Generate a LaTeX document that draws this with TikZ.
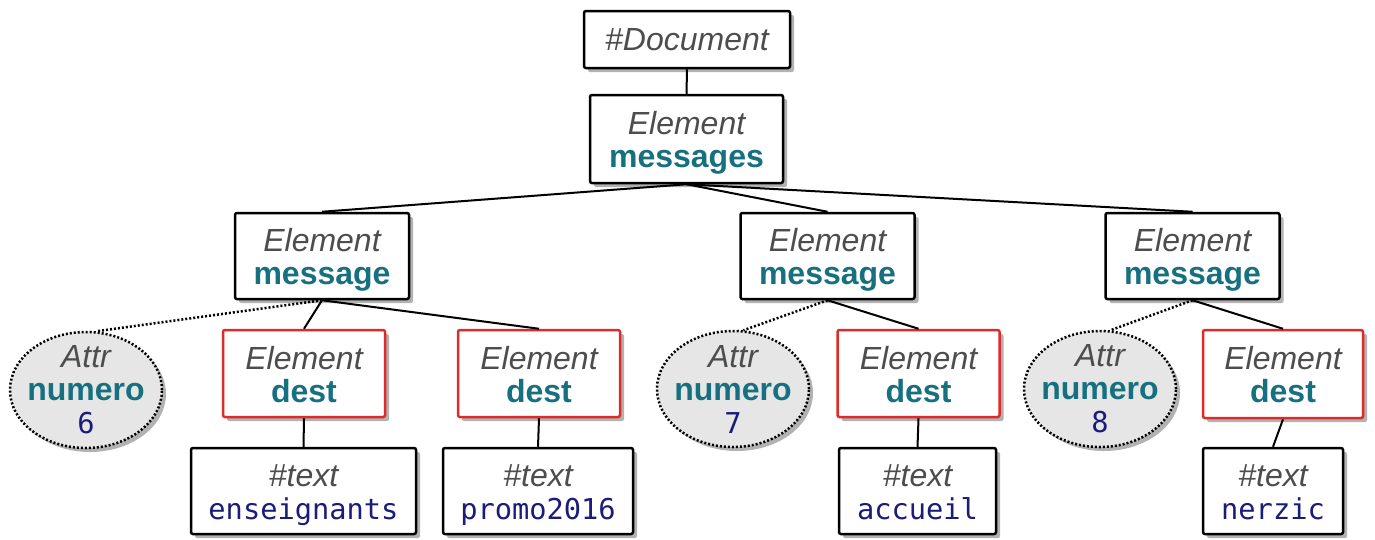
\documentclass[tikz,border=0pt]{standalone}
\usepackage{fontspec}
\setmainfont{Liberation Sans}
\newfontfamily\monof{DejaVu Sans Mono}
\usetikzlibrary{shapes.geometric,shadows}
\definecolor{tygray}{HTML}{4D4D4D}
\definecolor{nmteal}{HTML}{17707F}
\definecolor{vlnavy}{HTML}{1B1B7A}
\definecolor{dred}{HTML}{E02A2A}
\definecolor{attrfill}{HTML}{E6E6E6}
\newcommand{\dtyp}[1]{{\itshape\color{tygray}#1}}
\newcommand{\dtop}[1]{{\rule{0pt}{31pt}\itshape\color{tygray}#1}}
\newcommand{\dnam}[1]{{\bfseries\color{nmteal}#1}}
\newcommand{\dnamg}[1]{{\bfseries\color{nmteal}#1\vphantom{g}}}
\newcommand{\dval}[1]{{\monof\fontsize{28.7}{33}\selectfont\color{vlnavy}#1}}
\newcommand{\dvalg}[1]{{\monof\fontsize{28.7}{33}\selectfont\color{vlnavy}#1\vphantom{g}}}
\tikzset{
  shadowed/.style={drop shadow={shadow xshift=4pt, shadow yshift=-4pt, fill=black!30, opacity=1}},
  base/.style={rectangle, draw=black, line width=2.5pt, fill=white, rounded corners=2pt,
    inner sep=0pt, align=center, font=\fontsize{32}{33}\selectfont, shadowed},
  elem/.style={base},
  destbox/.style={base, draw=dred},
  attrnode/.style={ellipse, draw=black, line width=2.5pt, dash pattern=on 2pt off 2pt,
    fill=attrfill, inner sep=0pt, minimum width=152pt, minimum height=116pt, shadowed},
  attrtext/.style={align=center, font=\fontsize{32}{33}\selectfont, inner sep=0pt},
  edge/.style={line width=2pt, draw=black},
  dotedge/.style={line width=2.5pt, draw=black, dash pattern=on 2pt off 2pt}
}
\begin{document}
\begin{tikzpicture}[x=1pt,y=-1pt]
\useasboundingbox (0,0) rectangle (1375,539);
% top
\node[elem, minimum width=206pt, minimum height=57pt] (doc) at (687,39.5) {\dtyp{\#Document}};
\node[elem, minimum width=193pt, minimum height=88pt] (msgs) at (686.5,139) {\dtop{Element}\\\dnamg{messages}};
% messages
\node[elem, minimum width=174pt, minimum height=86pt] (m1) at (322,256) {\dtop{Element}\\\dnamg{message}};
\node[elem, minimum width=174pt, minimum height=86pt] (m2) at (827.5,256) {\dtop{Element}\\\dnamg{message}};
\node[elem, minimum width=174pt, minimum height=86pt] (m3) at (1192.5,256) {\dtop{Element}\\\dnamg{message}};
% attributes
\node[attrnode] (a1) at (86,390) {};
\node[attrtext] (a1t) at (86,390) {\dtyp{Attr}\\\dnam{numero}\\\dval{6}};
\node[attrnode] (a2) at (733,389) {};
\node[attrtext] (a2t) at (733,389) {\dtyp{Attr}\\\dnam{numero}\\\dval{7}};
\node[attrnode] (a3) at (1100,389) {};
\node[attrtext] (a3t) at (1100,389) {\dtyp{Attr}\\\dnam{numero}\\\dval{8}};
% dest
\node[destbox, minimum width=162pt, minimum height=87pt] (d1) at (304,373.5) {\dtop{Element}\\\dnamg{dest}};
\node[destbox, minimum width=162pt, minimum height=87pt] (d2) at (539,373.5) {\dtop{Element}\\\dnamg{dest}};
\node[destbox, minimum width=162pt, minimum height=87pt] (d3) at (918.5,373.5) {\dtop{Element}\\\dnamg{dest}};
\node[destbox, minimum width=160pt, minimum height=88pt] (d4) at (1283,374) {\dtop{Element}\\\dnamg{dest}};
% texts
\node[elem, minimum width=225pt, minimum height=86pt] (t1) at (303.5,491) {\dtop{\#text}\\\dvalg{enseignants}};
\node[elem, minimum width=190pt, minimum height=86pt] (t2) at (538,491) {\dtop{\#text}\\\dvalg{promo2016}};
\node[elem, minimum width=157pt, minimum height=86pt] (t3) at (917.5,491) {\dtop{\#text}\\\dvalg{accueil}};
\node[elem, minimum width=140pt, minimum height=86pt] (t4) at (1273,491) {\dtop{\#text}\\\dvalg{nerzic}};
% edges
\draw[edge] (doc.south) -- (msgs.north);
\draw[edge] (msgs.south) -- (m1.north);
\draw[edge] (msgs.south) -- (m2.north);
\draw[edge] (msgs.south) -- (m3.north);
\draw[dotedge] (m1.south) -- (a1.80);
\draw[edge] (m1.south) -- (d1.north);
\draw[edge] (m1.south) -- (d2.north);
\draw[dotedge] (m2.south) -- (a2.80);
\draw[edge] (m2.south) -- (d3.north);
\draw[dotedge] (m3.south) -- (a3.80);
\draw[edge] (m3.south) -- (d4.north);
\draw[edge] (d1.south) -- (t1.north);
\draw[edge] (d2.south) -- (t2.north);
\draw[edge] (d3.south) -- (t3.north);
\draw[edge] (d4.south) -- (t4.north);
\end{tikzpicture}
\end{document}
